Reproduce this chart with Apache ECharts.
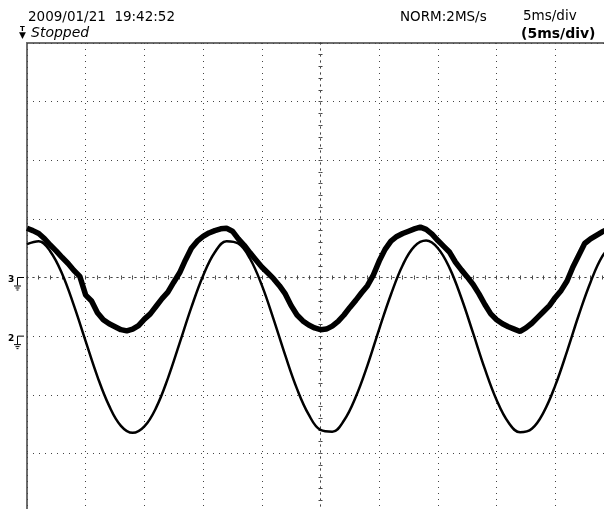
<!DOCTYPE html>
<html>
<head>
<meta charset="utf-8">
<script src="https://cdn.jsdelivr.net/npm/echarts@6/dist/echarts.min.js"></script>
<style>
  html, body { margin: 0; padding: 0; background: #fff; }
  #scope { width: 604px; height: 509px; }
</style>
</head>
<body>
<div id="scope"></div>
<script>
// time in ms from the left edge of the screen (5 ms/div), values in divisions
const ch2Time = [0, 1, 2, 3, 4, 5, 6, 7, 8, 9, 10, 11, 12, 13, 14, 15, 16, 17, 18, 19,
  20, 21, 22, 23, 24, 25, 26, 27, 28, 29, 30, 31, 32, 33, 34, 35, 36, 37, 38, 39,
  40, 41, 42, 43, 44, 45, 46, 47, 48, 49, 50];
const ch2Values = [0.57, 0.62, 0.44, 0.06, -0.48, -1.09, -1.69, -2.19, -2.53, -2.65,
  -2.54, -2.22, -1.72, -1.12, -0.51, 0.03, 0.43, 0.62, 0.58, 0.32,
  -0.13, -0.71, -1.33, -1.90, -2.34, -2.60, -2.63, -2.44, -2.04, -1.50,
  -0.88, -0.29, 0.21, 0.53, 0.63, 0.50, 0.16, -0.35, -0.95, -1.56,
  -2.09, -2.47, -2.64, -2.58, -2.30, -1.84, -1.26, -0.64, -0.08, 0.36, 0.59];

const ch3Time = [0, 0.5, 1, 1.5, 2, 2.5, 3, 3.5, 4, 4.5, 5, 5.5, 6, 6.5, 7, 7.5, 8, 8.5, 9, 9.5,
  10, 10.5, 11, 11.5, 12, 12.5, 13, 13.5, 14, 14.5, 15, 15.5, 16, 16.5, 17, 17.5, 18, 18.5, 19, 19.5,
  20, 20.5, 21, 21.5, 22, 22.5, 23, 23.5, 24, 24.5, 25, 25.5, 26, 26.5, 27, 27.5, 28, 28.5, 29, 29.5,
  30, 30.5, 31, 31.5, 32, 32.5, 33, 33.5, 34, 34.5, 35, 35.5, 36, 36.5, 37, 37.5, 38, 38.5, 39, 39.5,
  40, 40.5, 41, 41.5, 42, 42.5, 43, 43.5, 44, 44.5, 45, 45.5, 46, 46.5, 47, 47.5, 48, 48.5, 49, 49.5, 50];
const ch3Values = [0.84, 0.80, 0.75, 0.66, 0.55, 0.45, 0.34, 0.24, 0.12, 0.02,
  -0.30, -0.40, -0.60, -0.72, -0.79, -0.84, -0.89, -0.91, -0.88, -0.82,
  -0.71, -0.62, -0.49, -0.36, -0.25, -0.08, 0.08, 0.30, 0.50, 0.62,
  0.70, 0.76, 0.80, 0.83, 0.84, 0.79, 0.66, 0.55, 0.42, 0.30,
  0.18, 0.08, -0.02, -0.14, -0.28, -0.48, -0.64, -0.74, -0.81, -0.86,
  -0.89, -0.88, -0.83, -0.75, -0.64, -0.51, -0.39, -0.26, -0.14, 0.04,
  0.28, 0.48, 0.62, 0.70, 0.75, 0.79, 0.83, 0.86, 0.82, 0.74,
  0.63, 0.53, 0.43, 0.26, 0.13, 0.01, -0.12, -0.28, -0.46, -0.62,
  -0.72, -0.79, -0.84, -0.88, -0.92, -0.86, -0.78, -0.68, -0.58, -0.48,
  -0.34, -0.22, -0.06, 0.18, 0.38, 0.58, 0.66, 0.72, 0.78, 0.82, 0.84];

const header = {
  stamp: '2009/01/21  19:42:52',
  state: 'Stopped',
  mode: 'NORM:2MS/s',
  tdiv: '5ms/div',
  tdiv2: '(5ms/div)'
};
const channelMarks = [{ label: '3', level: 0 }, { label: '2', level: -1 }];

const half = 25; // screen centre in ms
const chart = echarts.init(document.getElementById('scope'));

const dots = { color: '#444', width: 1, type: [1, 5] };
const tick = { color: '#444', width: 1 };

function centreX(pos, split) {
  return {
    type: 'value', min: -half, max: half, interval: 5, position: pos,
    axisLine: { onZero: true, onZeroAxisIndex: 0, lineStyle: dots },
    axisTick: { show: true, length: 2, lineStyle: tick },
    minorTick: { show: true, splitNumber: 5, length: 2, lineStyle: tick },
    axisLabel: { show: false },
    splitLine: { show: split, lineStyle: dots }
  };
}
function centreY(pos, split) {
  return {
    type: 'value', min: -4, max: 4, interval: 1, position: pos,
    axisLine: { onZero: true, onZeroAxisIndex: 0, lineStyle: dots },
    axisTick: { show: true, length: 2, lineStyle: tick },
    minorTick: { show: true, splitNumber: 5, length: 2, lineStyle: tick },
    axisLabel: { show: false },
    splitLine: { show: split, lineStyle: dots }
  };
}

const txt = (text, x, y, font) => ({
  type: 'text', x: x, y: y,
  style: { text: text, font: font, fill: '#000', verticalAlign: 'top' }
});

chart.setOption({
  animation: false,
  grid: {
    left: 27, top: 43, width: 587, height: 469,
    outerBoundsMode: 'none', containLabel: false,
    show: true, borderColor: '#6e6e6e', borderWidth: 2
  },
  xAxis: [centreX('bottom', true), centreX('top', false)],
  yAxis: [centreY('left', true), centreY('right', false)],
  series: [
    {
      type: 'line', name: 'CH2', showSymbol: false, smooth: 0.4,
      data: ch2Time.map((t, i) => [t - half, ch2Values[i]]),
      lineStyle: { color: '#000', width: 2.5 }
    },
    {
      type: 'line', name: 'CH3', showSymbol: false,
      data: ch3Time.map((t, i) => [t - half, ch3Values[i]]),
      lineStyle: { color: '#000', width: 5.5 }
    }
  ],
  graphic: [
    txt(header.stamp, 28, 10, '13.5px "DejaVu Sans"'),
    txt(header.state, 31, 26, 'italic 14px "DejaVu Sans"'),
    txt('T', 20, 26, 'bold 7px "DejaVu Sans"'),
    txt('\u25BC', 19, 31, '9px "DejaVu Sans"'),
    txt(header.mode, 400, 10, '13.5px "DejaVu Sans"'),
    txt(header.tdiv, 523, 9, '13.5px "DejaVu Sans"'),
    txt(header.tdiv2, 521, 27, 'bold 14px "DejaVu Sans"')
  ]
});

// channel ground markers on the left edge
const marks = [];
channelMarks.forEach(m => {
  const y = chart.convertToPixel({ yAxisIndex: 0 }, m.level);
  marks.push(txt(m.label, 8, y - 2, 'bold 9px "DejaVu Sans"'));
  marks.push({ type: 'polyline', shape: { points: [[24, y], [17.5, y], [17.5, y + 8]] },
    style: { stroke: '#000', lineWidth: 1, fill: null } });
  marks.push({ type: 'line', shape: { x1: 14, y1: y + 8.5, x2: 21, y2: y + 8.5 }, style: { stroke: '#000', lineWidth: 1 } });
  marks.push({ type: 'line', shape: { x1: 15.5, y1: y + 10.5, x2: 19.5, y2: y + 10.5 }, style: { stroke: '#000', lineWidth: 1 } });
  marks.push({ type: 'line', shape: { x1: 16.5, y1: y + 12.5, x2: 18.5, y2: y + 12.5 }, style: { stroke: '#000', lineWidth: 1 } });
});
chart.setOption({ graphic: chart.getOption().graphic[0].elements.concat(marks) });
</script>
</body>
</html>
